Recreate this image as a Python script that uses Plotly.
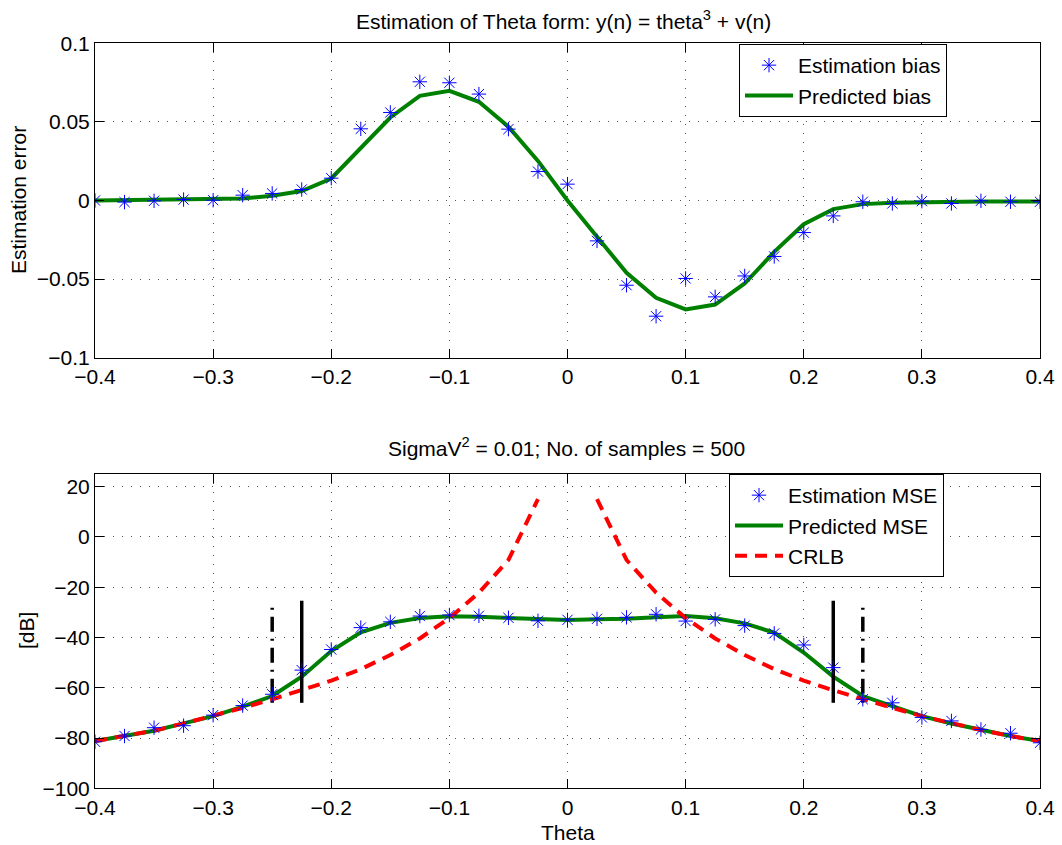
import plotly.graph_objects as go

W, H = 1062, 845

# Parameter grid
theta = [-0.4, -0.375, -0.35, -0.325, -0.3, -0.275, -0.25, -0.225, -0.2, -0.175,
         -0.15, -0.125, -0.1, -0.075, -0.05, -0.025, 0.0, 0.025, 0.05, 0.075,
         0.1, 0.125, 0.15, 0.175, 0.2, 0.225, 0.25, 0.275, 0.3, 0.325, 0.35,
         0.375, 0.4]

# Upper panel: bias
bias_est = [0.0000, -0.0010, -0.0002, 0.0006, 0.0002, 0.0034, 0.0045, 0.0070,
            0.0142, 0.0456, 0.0560, 0.0755, 0.0749, 0.0677, 0.0454, 0.0184,
            0.0104, -0.0257, -0.0539, -0.0736, -0.0496, -0.0613, -0.0480,
            -0.0356, -0.0204, -0.0098, -0.0008, -0.0019, -0.0004, -0.0019,
            -0.0002, -0.0008, -0.0008]
bias_pred = [0.0000, 0.0003, 0.0004, 0.0005, 0.0006, 0.0013, 0.0030, 0.0060,
             0.0140, 0.0337, 0.0528, 0.0666, 0.0698, 0.0628, 0.0469, 0.0252,
             0.0000, -0.0231, -0.0460, -0.0619, -0.0693, -0.0662, -0.0528,
             -0.0327, -0.0151, -0.0055, -0.0023, -0.0015, -0.0010, -0.0006,
             -0.0006, -0.0006, -0.0006]

# Lower panel: MSE in dB
mse_est = [-81.5, -79.2, -75.9, -75.1, -70.9, -67.1, -62.6, -53.0, -44.8, -36.1,
           -33.8, -31.5, -31.1, -31.4, -32.2, -33.4, -33.0, -32.6, -32.0, -30.8,
           -33.5, -32.8, -35.3, -38.4, -43.0, -52.0, -64.6, -66.0, -71.8, -73.2,
           -76.6, -78.1, -81.9]
mse_pred = [-81.2, -79.2, -77.1, -74.2, -71.3, -67.5, -63.3, -55.6, -45.4, -38.0,
            -34.2, -32.3, -31.6, -31.8, -32.3, -32.8, -33.1, -32.8, -32.6, -32.0,
            -31.5, -32.4, -34.4, -38.1, -46.0, -55.6, -63.3, -67.3, -71.3, -74.2,
            -76.8, -79.2, -81.2]
crlb = [-81.2, -79.2, -77.1, -74.2, -71.3, -68.0, -64.6, -61.0, -57.2, -52.6,
        -47.0, -40.4, -32.3, -22.2, -9.2, 15.0, None, 15.0, -9.2, -22.2,
        -32.3, -40.4, -47.0, -52.6, -57.2, -61.0, -64.6, -68.0, -71.3, -74.2,
        -76.8, -79.2, -81.2]

# Threshold markers (vertical segments)
thr_solid = [-0.225, 0.225]
thr_dashdot = [-0.25, 0.25]
thr_span = [-66.0, -25.4]

# Tick labels
x_ticks = [-0.4, -0.3, -0.2, -0.1, 0.0, 0.1, 0.2, 0.3, 0.4]
x_ticktext = ["\u22120.4", "\u22120.3", "\u22120.2", "\u22120.1", "0", "0.1", "0.2", "0.3", "0.4"]
y1_ticks = [-0.1, -0.05, 0.0, 0.05, 0.1]
y1_ticktext = ["\u22120.1", "\u22120.05", "0", "0.05", "0.1"]
y2_ticks = [-100, -80, -60, -40, -20, 0, 20]
y2_ticktext = ["\u2212100", "\u221280", "\u221260", "\u221240", "\u221220", "0", "20"]

FONT = "Liberation Sans, Arial, Helvetica, sans-serif"
FS = 21
BLUE = "#0000ff"
GREEN = "#008000"
RED = "#ff0000"


def fx(px):
    return px / W


def fy(py):
    return 1 - py / H


star = dict(symbol="asterisk-open", size=12, color=BLUE,
            line=dict(color=BLUE, width=1))

fig = go.Figure()

# ---- upper panel ----
fig.add_trace(go.Scatter(x=theta, y=bias_pred, mode="lines", name="Predicted bias",
                         line=dict(color=GREEN, width=4), xaxis="x", yaxis="y",
                         legend="legend", legendrank=2))
fig.add_trace(go.Scatter(x=theta, y=bias_est, mode="markers", name="Estimation bias",
                         marker=star, xaxis="x", yaxis="y",
                         legend="legend", legendrank=1))

# ---- lower panel ----
fig.add_trace(go.Scatter(x=theta, y=mse_pred, mode="lines", name="Predicted MSE",
                         line=dict(color=GREEN, width=4), xaxis="x2", yaxis="y2",
                         legend="legend2", legendrank=2))
fig.add_trace(go.Scatter(x=theta, y=crlb, mode="lines", name="CRLB",
                         line=dict(color=RED, width=4, dash="12px,8px"),
                         connectgaps=False, xaxis="x2", yaxis="y2",
                         legend="legend2", legendrank=3))
for xv in thr_solid:
    fig.add_trace(go.Scatter(x=[xv, xv], y=thr_span, mode="lines", showlegend=False,
                             line=dict(color="black", width=3.5),
                             xaxis="x2", yaxis="y2", hoverinfo="skip"))
for xv in thr_dashdot:
    fig.add_trace(go.Scatter(x=[xv, xv], y=thr_span, mode="lines", showlegend=False,
                             line=dict(color="black", width=3.5, dash="2px,7px,15px,7px"),
                             xaxis="x2", yaxis="y2", hoverinfo="skip"))
fig.add_trace(go.Scatter(x=theta, y=mse_est, mode="markers", name="Estimation MSE",
                         marker=star, xaxis="x2", yaxis="y2",
                         legend="legend2", legendrank=1))

axis_common = dict(
    showline=True, linecolor="black", linewidth=1, mirror="ticks",
    ticks="inside", ticklen=9, tickwidth=1, tickcolor="black",
    showgrid=True, gridcolor="#555555", gridwidth=1, griddash="1px,8px",
    zeroline=False, automargin=False,
    tickfont=dict(family=FONT, size=FS, color="black"),
)

legend_common = dict(
    xanchor="left", yanchor="top", bgcolor="white", bordercolor="black",
    borderwidth=1, font=dict(family=FONT, size=FS, color="black"),
    itemwidth=48, tracegroupgap=0,
)

x_dom = [fx(95), fx(1040)]
fig.update_layout(
    width=W, height=H,
    margin=dict(l=0, r=0, t=0, b=0, autoexpand=False),
    paper_bgcolor="white", plot_bgcolor="white",
    font=dict(family=FONT, size=FS, color="black"),
    xaxis=dict(domain=x_dom, anchor="y", range=[-0.4, 0.4],
               tickvals=x_ticks, ticktext=x_ticktext, **axis_common),
    yaxis=dict(domain=[fy(357.7), fy(43.3)], anchor="x", range=[-0.1, 0.1],
               tickvals=y1_ticks, ticktext=y1_ticktext, **axis_common),
    xaxis2=dict(domain=x_dom, anchor="y2", range=[-0.4, 0.4],
                tickvals=x_ticks, ticktext=x_ticktext, **axis_common),
    yaxis2=dict(domain=[fy(788.3), fy(474)], anchor="x2", range=[-100, 25],
                tickvals=y2_ticks, ticktext=y2_ticktext, **axis_common),
    legend=dict(x=fx(739), y=fy(44), **legend_common),
    legend2=dict(x=fx(729), y=fy(474), **legend_common),
    showlegend=True,
)

ann_font = dict(family=FONT, size=FS, color="black")
fig.add_annotation(text="Estimation of Theta form: y(n) = theta<sup>3</sup> + v(n)",
                   x=fx(563), y=fy(20), xref="paper", yref="paper",
                   xanchor="center", yanchor="middle", showarrow=False, font=ann_font)
fig.add_annotation(text="SigmaV<sup>2</sup> = 0.01; No. of samples = 500",
                   x=fx(566), y=fy(447), xref="paper", yref="paper",
                   xanchor="center", yanchor="middle", showarrow=False, font=ann_font)
fig.add_annotation(text="Estimation error", textangle=-90,
                   x=fx(18), y=fy(200), xref="paper", yref="paper",
                   xanchor="center", yanchor="middle", showarrow=False, font=ann_font)
fig.add_annotation(text="[dB]", textangle=-90,
                   x=fx(26), y=fy(631), xref="paper", yref="paper",
                   xanchor="center", yanchor="middle", showarrow=False, font=ann_font)
fig.add_annotation(text="Theta",
                   x=fx(568), y=fy(832), xref="paper", yref="paper",
                   xanchor="center", yanchor="middle", showarrow=False, font=ann_font)

fig.write_html("out.html")
